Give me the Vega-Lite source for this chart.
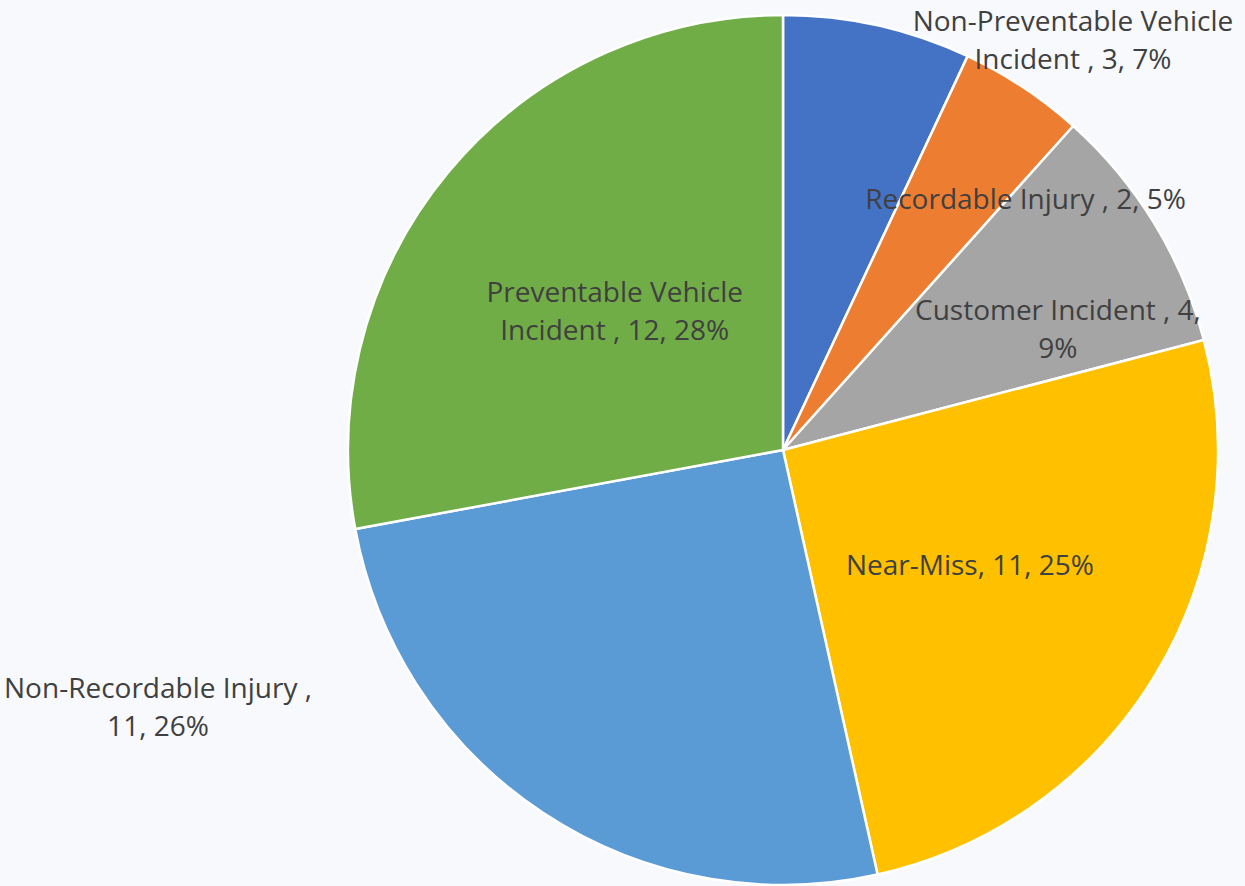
{
  "$schema": "https://vega.github.io/schema/vega-lite/v6.json",
  "autosize": {"type": "none"},
  "width": 870,
  "height": 870,
  "padding": {"left": 348, "top": 15, "right": 27, "bottom": 1},
  "background": "#F7F9FC",
  "config": {"view": {"stroke": null}},
  "data": {
    "values": [
      {"k": 1, "category": "Non-Preventable Vehicle Incident", "count": 3, "label": "Non-Preventable Vehicle\nIncident , 3, 7%"},
      {"k": 2, "category": "Recordable Injury", "count": 2, "label": "Recordable Injury , 2, 5%"},
      {"k": 3, "category": "Customer Incident", "count": 4, "label": "Customer Incident , 4,\n9%"},
      {"k": 4, "category": "Near-Miss", "count": 11, "label": "Near-Miss, 11, 25%"},
      {"k": 5, "category": "Non-Recordable Injury", "count": 11, "label": "Non-Recordable Injury ,\n11, 26%"},
      {"k": 6, "category": "Preventable Vehicle Incident", "count": 12, "label": "Preventable Vehicle\nIncident , 12, 28%"}
    ]
  },
  "encoding": {
    "theta": {"field": "count", "type": "quantitative", "stack": true},
    "order": {"field": "k", "type": "quantitative"}
  },
  "layer": [
    {
      "mark": {"type": "arc", "outerRadius": 435, "stroke": "white", "strokeWidth": 2.5},
      "encoding": {
        "color": {
          "field": "category",
          "type": "nominal",
          "scale": {
            "domain": ["Non-Preventable Vehicle Incident", "Recordable Injury", "Customer Incident", "Near-Miss", "Non-Recordable Injury", "Preventable Vehicle Incident"],
            "range": ["#4472C4", "#ED7D31", "#A5A5A5", "#FFC000", "#5B9BD5", "#70AD47"]
          },
          "legend": null
        }
      }
    },
    {
      "mark": {"type": "text", "radius": 219, "dy": 3, "font": "Open Sans", "fontSize": 28, "color": "#404040", "align": "center", "baseline": "middle", "lineBreak": "\n", "lineHeight": 38},
      "encoding": {
        "text": {"condition": {"test": "datum.category === 'Near-Miss'", "field": "label"}, "value": ""}
      }
    },
    {
      "mark": {"type": "text", "radius": 219, "dy": -16, "font": "Open Sans", "fontSize": 28, "color": "#404040", "align": "center", "baseline": "middle", "lineBreak": "\n", "lineHeight": 38},
      "encoding": {
        "text": {"condition": {"test": "datum.category === 'Preventable Vehicle Incident'", "field": "label"}, "value": ""}
      }
    },
    {
      "mark": {"type": "text", "radius": 349, "dx": 50, "dy": 42, "font": "Open Sans", "fontSize": 28, "color": "#404040", "align": "center", "baseline": "middle", "lineBreak": "\n", "lineHeight": 38},
      "encoding": {
        "text": {"condition": {"test": "datum.category === 'Recordable Injury'", "field": "label"}, "value": ""}
      }
    },
    {
      "mark": {"type": "text", "radius": 301, "dx": 18, "dy": 19, "font": "Open Sans", "fontSize": 28, "color": "#404040", "align": "center", "baseline": "middle", "lineBreak": "\n", "lineHeight": 38},
      "encoding": {
        "text": {"condition": {"test": "datum.category === 'Customer Incident'", "field": "label"}, "value": ""}
      }
    },
    {
      "mark": {"type": "text", "radius": 400, "dx": 203, "dy": -37, "font": "Open Sans", "fontSize": 28, "color": "#404040", "align": "center", "baseline": "middle", "lineBreak": "\n", "lineHeight": 38},
      "encoding": {
        "text": {"condition": {"test": "datum.category === 'Non-Preventable Vehicle Incident'", "field": "label"}, "value": ""}
      }
    },
    {
      "mark": {"type": "text", "radius": 435, "dx": -385, "dy": -123, "font": "Open Sans", "fontSize": 28, "color": "#404040", "align": "center", "baseline": "middle", "lineBreak": "\n", "lineHeight": 38},
      "encoding": {
        "text": {"condition": {"test": "datum.category === 'Non-Recordable Injury'", "field": "label"}, "value": ""}
      }
    }
  ]
}
